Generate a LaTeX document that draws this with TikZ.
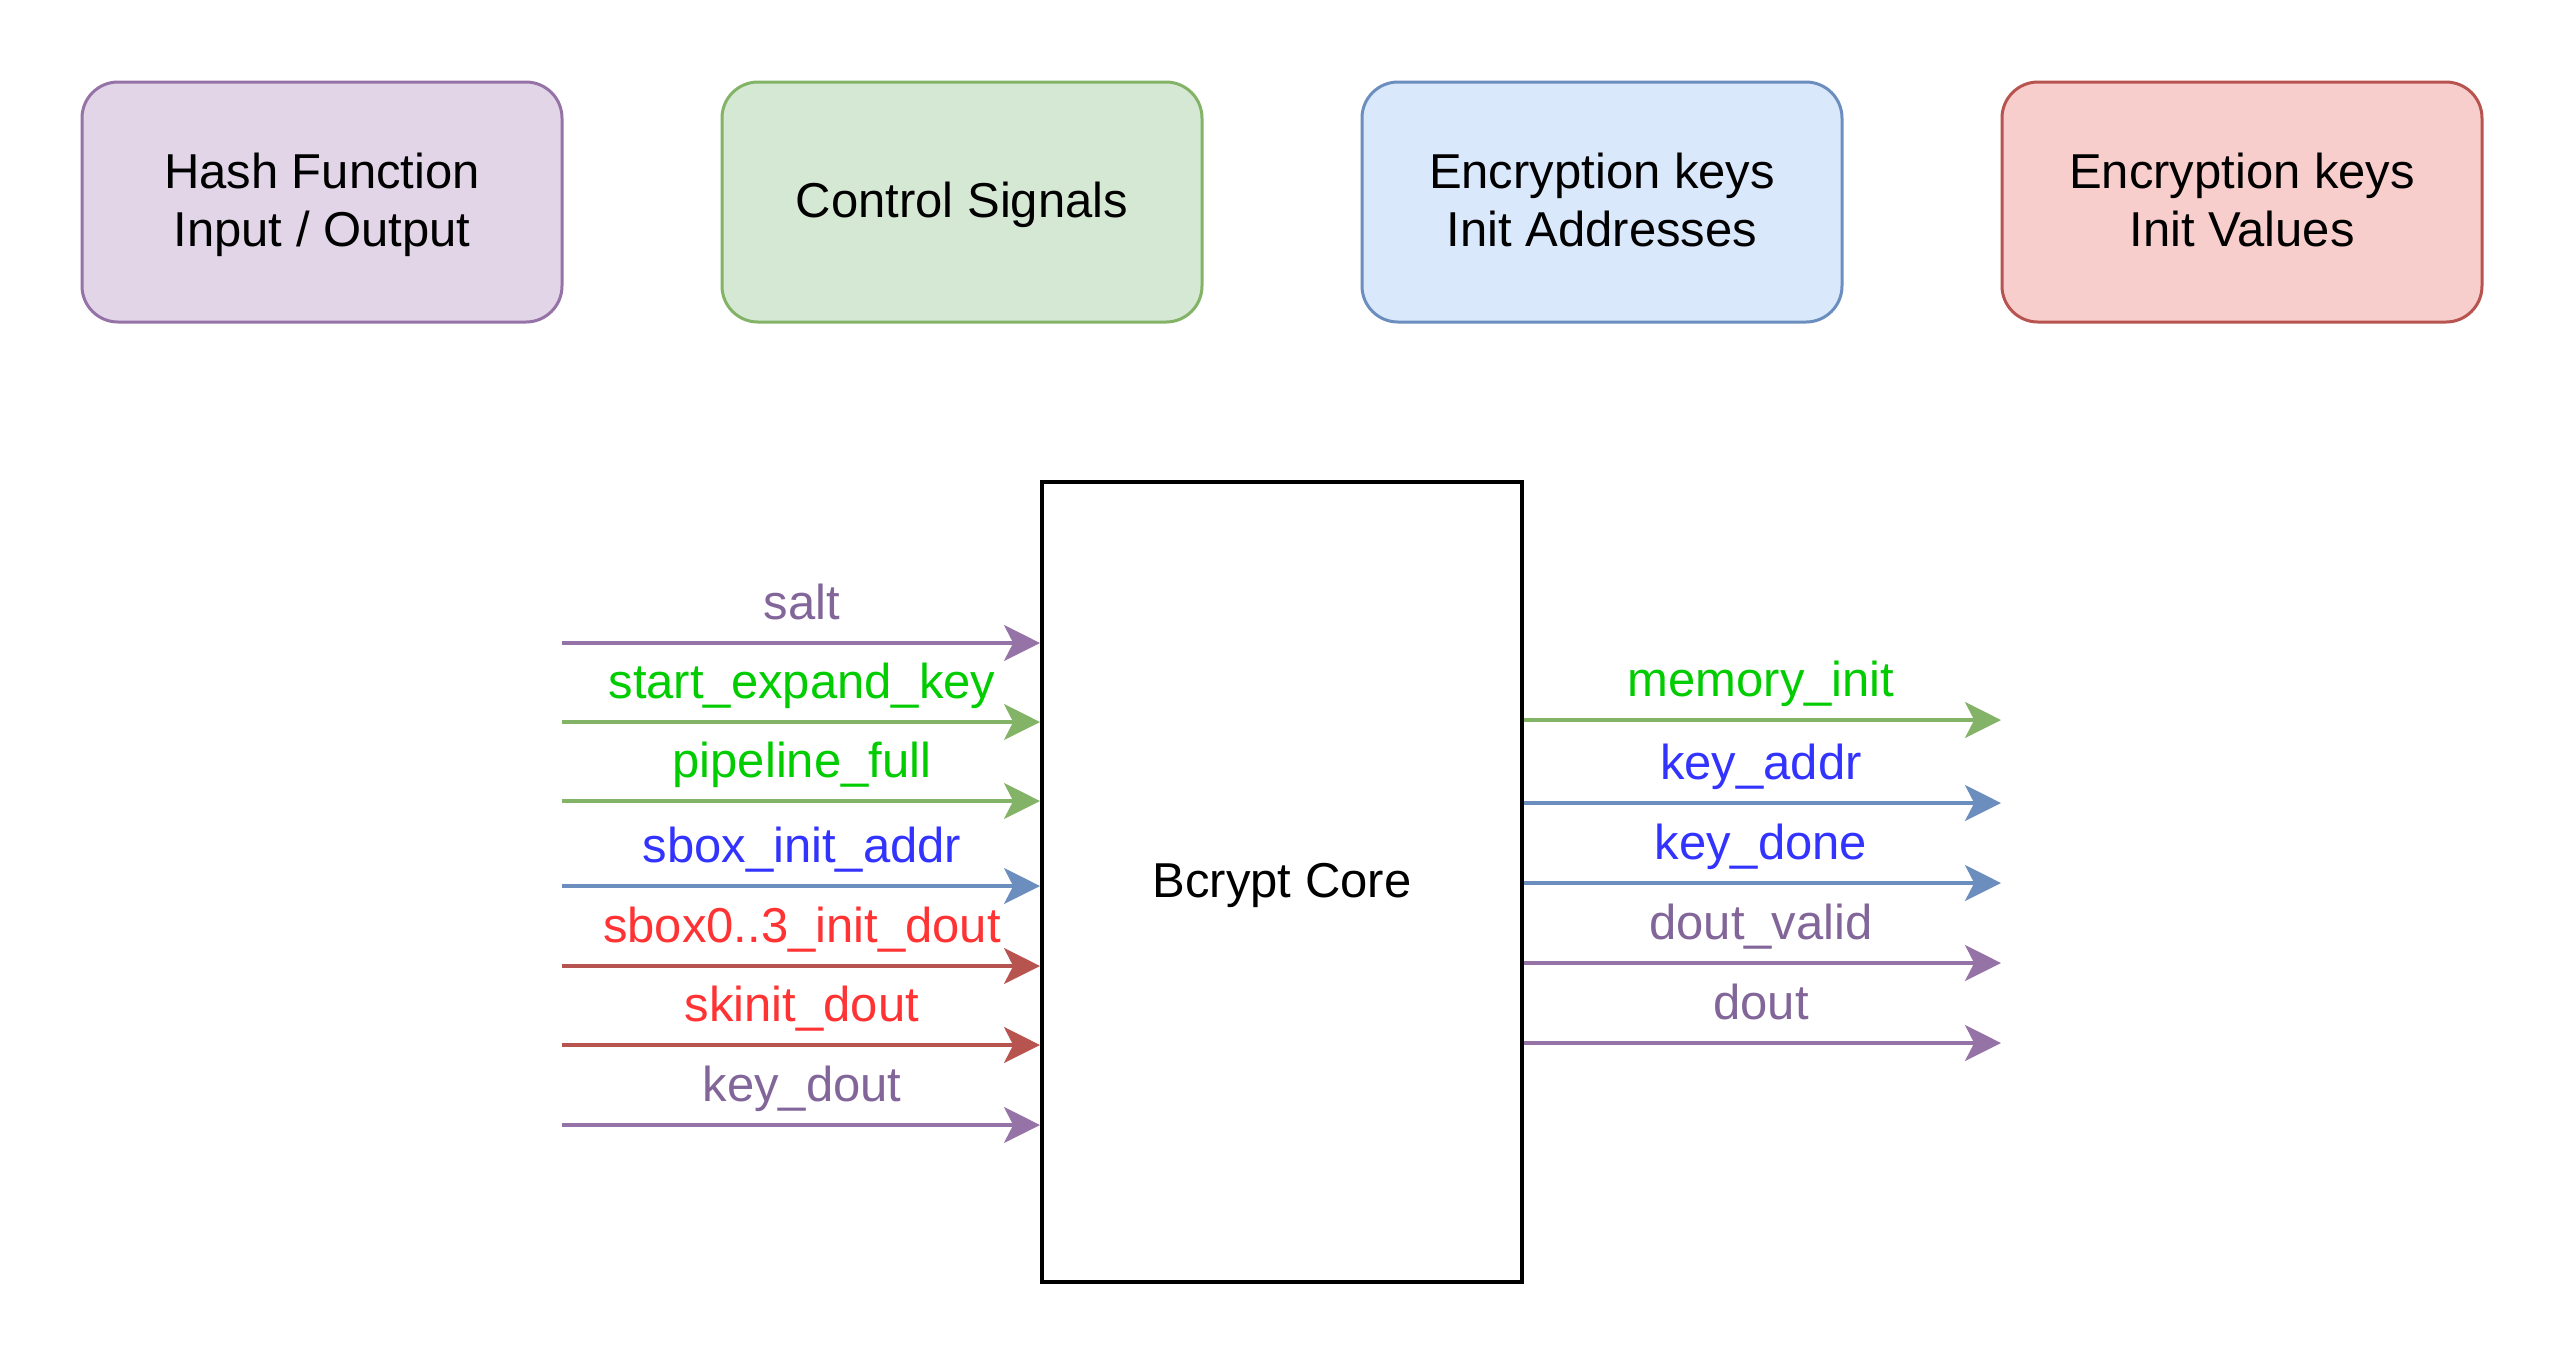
\documentclass[tikz,border=0pt]{standalone}
\usepackage{fontspec}
\setmainfont{Liberation Sans}
\usetikzlibrary{arrows.meta}
\newcommand\lnstrut{\rule[-2.6pt]{0pt}{12.9pt}}
\definecolor{pfill}{HTML}{E1D5E7}\definecolor{pdraw}{HTML}{9673A6}\definecolor{ptext}{HTML}{82669A}
\definecolor{gfill}{HTML}{D5E8D4}\definecolor{gdraw}{HTML}{82B366}\definecolor{gtext}{HTML}{00CC00}
\definecolor{bfill}{HTML}{DAE8FC}\definecolor{bdraw}{HTML}{6C8EBF}\definecolor{btext}{HTML}{3333FF}
\definecolor{rfill}{HTML}{F8CECC}\definecolor{rdraw}{HTML}{B85450}\definecolor{rtext}{HTML}{FF3333}
\tikzset{
  legend/.style={draw=#1draw, fill=#1fill, line width=0.75pt, rounded corners=9pt,
    minimum width=120pt, minimum height=60pt, align=center, inner sep=0pt,
    font=\fontsize{12.25}{14.7}\selectfont},
  core/.style={draw=black, line width=1pt, minimum width=120pt, minimum height=200pt,
    inner sep=0pt, font=\fontsize{12.25}{14.7}\selectfont},
  sig/.style={draw=#1draw, line width=0.8pt, -{Stealth[length=9pt,width=9pt,inset=2.3pt]}},
  lab/.style={text=#1text, anchor=base, inner sep=0pt, font=\fontsize{12.25}{14.7}\selectfont},
}
\begin{document}
\begin{tikzpicture}[x=0.25pt,y=-0.25pt]
\useasboundingbox (0,0) rectangle (2564,1364);
\node[legend=p] (hash) at (322,202) {\lnstrut Hash Function\\\lnstrut Input / Output};
\node[legend=g] (ctrl) at (962,202) {\lnstrut Control Signals};
\node[legend=b] (addr) at (1602,202) {\lnstrut Encryption keys\\\lnstrut Init Addresses};
\node[legend=r] (vals) at (2242,202) {\lnstrut Encryption keys\\\lnstrut Init Values};
\node[core] (core) at (1282,882) {\lnstrut Bcrypt Core};
% left inputs
\foreach \n/\y/\c/\t in {i1/643/p/salt, i2/722/g/start\_expand\_key, i3/801/g/pipeline\_full,
  i4/886/b/sbox\_init\_addr, i5/966/r/sbox0..3\_init\_dout, i6/1045/r/skinit\_dout, i7/1125/p/key\_dout}{
  \coordinate (\n s) at (562,\y);
  \coordinate (\n e) at (core.west |- 0,\y);
  \draw[sig=\c] (\n s) -- (\n e);
  \node[lab=\c] (\n l) at (802,\y-24) {\t};
}
% right outputs
\foreach \n/\y/\c/\t in {o1/720/g/memory\_init, o2/803/b/key\_addr, o3/883/b/key\_done,
  o4/963/p/dout\_valid, o5/1043/p/dout}{
  \coordinate (\n s) at (core.east |- 0,\y);
  \coordinate (\n e) at (2001,\y);
  \draw[sig=\c] (\n s) -- (\n e);
  \node[lab=\c] (\n l) at (1761,\y-24) {\t};
}
\end{tikzpicture}
\end{document}
